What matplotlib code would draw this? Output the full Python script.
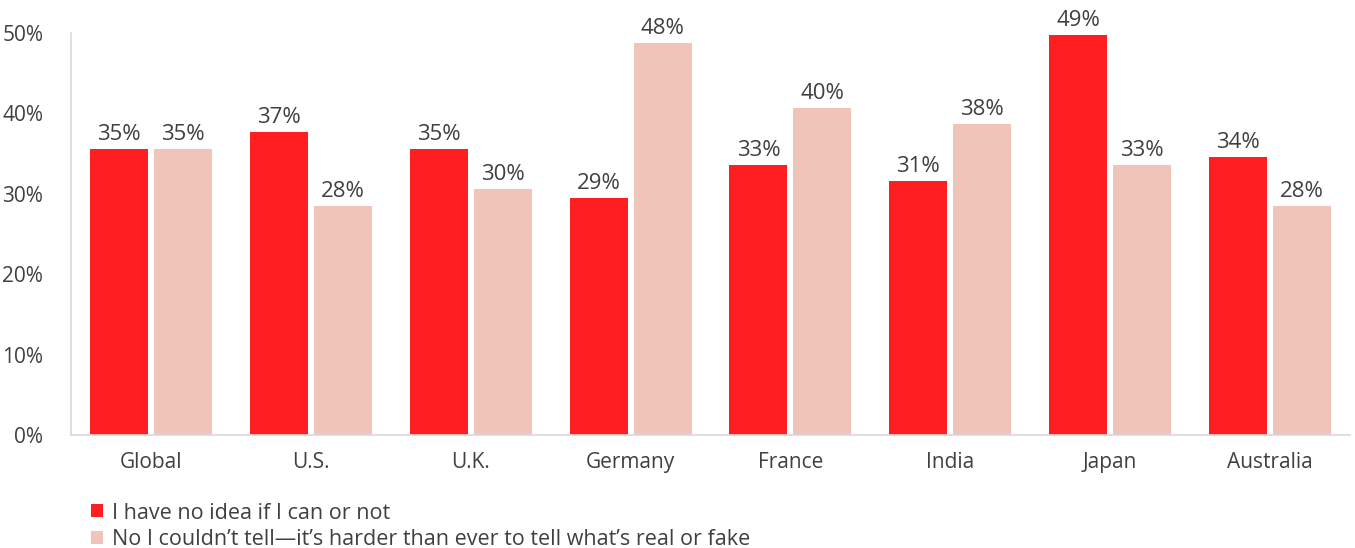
import numpy as np
import matplotlib.pyplot as plt

plt.rcParams['font.family'] = ['Open Sans', 'DejaVu Sans']

# data
countries = ["Global", "U.S.", "U.K.", "Germany", "France", "India", "Japan", "Australia"]
no_idea = [35.6, 37.7, 35.6, 29.5, 33.6, 31.6, 49.7, 34.6]
cant_tell = [35.6, 28.5, 30.6, 48.8, 40.7, 38.7, 33.6, 28.5]
yticks = [0, 10, 20, 30, 40, 50]

red = "#FF1E22"
pink = "#F0C4B8"
txt = "#404040"

fig = plt.figure(figsize=(13.55, 5.48), dpi=100)
ax = fig.add_axes([0.0524, 0.2062, 0.9439, 0.7336])

x = np.arange(len(countries))
w = 0.3625
b1 = ax.bar(x - 0.2, no_idea, w, color=red, label="I have no idea if I can or not")
b2 = ax.bar(x + 0.2, cant_tell, w, color=pink,
            label="No I couldn\u2019t tell\u2014it\u2019s harder than ever to tell what\u2019s real or fake")

for bars in (b1, b2):
    for r in bars:
        h = r.get_height()
        ax.text(r.get_x() + r.get_width() / 2, h + 0.5, f"{int(h)}%",
                ha="center", va="bottom", fontsize=16, color=txt)

ax.set_xlim(-0.5, 7.5)
ax.set_ylim(0, 50)
ax.set_yticks(yticks)
ax.set_yticklabels([f"{t}%" for t in yticks])
ax.set_xticks(x)
ax.set_xticklabels(countries)
ax.tick_params(length=0, labelsize=15, colors=txt)
ax.tick_params(axis="y", pad=20)
ax.tick_params(axis="x", pad=12)

for s in ["top", "right"]:
    ax.spines[s].set_visible(False)
for s in ["left", "bottom"]:
    ax.spines[s].set_color("#d9d9d9")
    ax.spines[s].set_linewidth(1.2)

fig.legend(loc="upper left", bbox_to_anchor=(0.067, 0.083), frameon=False,
           fontsize=15.5, handlelength=0.55, handleheight=0.55, handletextpad=0.45,
           labelspacing=0.25, borderaxespad=0, borderpad=0, labelcolor=txt)

fig.savefig("out.png", dpi=100)
